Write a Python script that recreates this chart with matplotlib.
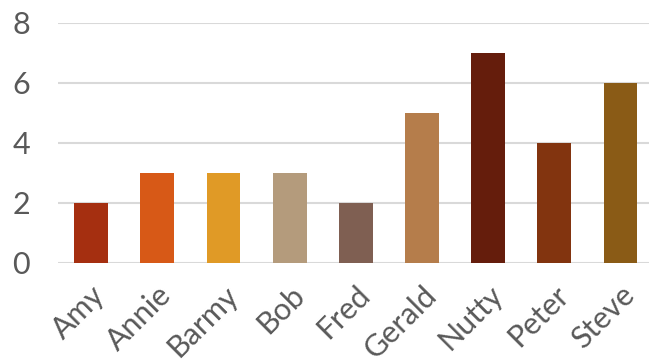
import matplotlib
matplotlib.use("Agg")
import matplotlib.pyplot as plt

names = ["Amy", "Annie", "Barmy", "Bob", "Fred", "Gerald", "Nutty", "Peter", "Steve"]
values = [2, 3, 3, 3, 2, 5, 7, 4, 6]
colors = ["#A52F10", "#D75917", "#E09A26", "#B49B7C", "#7F5F52",
          "#B57D4B", "#651D0C", "#82340F", "#8A5B16"]
yticks = [0, 2, 4, 6, 8]

plt.rcParams['font.family'] = ['Lato', 'DejaVu Sans']

fig = plt.figure(figsize=(6.49, 3.62), dpi=100)
ax = fig.add_axes([58/649, 99.5/362, 1 - 58/649, 240/362])
x = list(range(len(names)))
ax.bar(x, values, width=0.51, color=colors, zorder=3)
ax.set_ylim(0, 8)
ax.set_xlim(-0.5, 8.43)
ax.set_yticks(yticks)
ax.set_xticks(x)
ax.set_xticklabels(names, rotation=45, ha='right', rotation_mode='anchor')
ax.grid(axis='y', color='#d9d9d9', linewidth=1.5, zorder=0)
for s in ax.spines.values():
    s.set_visible(False)
ax.tick_params(axis='both', length=0, labelsize=22, colors='#595959')
ax.tick_params(axis='y', pad=20)
ax.tick_params(axis='x', pad=13)
fig.savefig("out.png", dpi=100)
